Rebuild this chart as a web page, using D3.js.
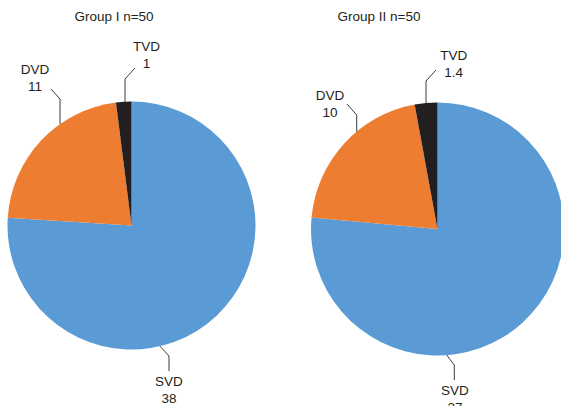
<!DOCTYPE html>
<html>
<head>
<meta charset="utf-8">
<script src="https://cdn.jsdelivr.net/npm/d3@7"></script>
<style>
  html, body { margin: 0; padding: 0; background: #fff; }
  svg { display: block; }
  text { font-family: "Liberation Sans", Arial, sans-serif; fill: #231f20; }
</style>
</head>
<body>
<svg id="chart" width="561" height="406"></svg>
<script>
// ---- data ----
const categories = ["SVD", "DVD", "TVD"];
const groupTitles = ["Group I n=50", "Group II n=50"];
const group1Values = [38, 11, 1];
const group2Values = [37, 10, 1.4];
const colors = ["#5b9bd5", "#ed7d31", "#231f20"];

// ---- layout (relative to each pie's centre) ----
const pies = [
  { values: group1Values, title: groupTitles[0], cx: 131.5, cy: 225.5, r: 124, titleX: 114, titleY: 21,
    labels: [
      { tx: 37.5, ty: 160, start: [37.5, 145.5], elbow: [37.5, 130.5], edgeX: 28.5, edgeSide: 1 },   // SVD
      { tx: -96.5, ty: -151.5, start: [-80.5, -136.5], elbow: [-71.5, -126.5], edgeX: -71.5, edgeSide: -1 }, // DVD
      { tx: 15, ty: -174.5, start: [3.5, -157.5], elbow: [-6.5, -146.5], edgeX: -6.5, edgeSide: -1 }  // TVD
    ] },
  { values: group2Values, title: groupTitles[1], cx: 437.5, cy: 229, r: 126.5, titleX: 379, titleY: 21,
    labels: [
      { tx: 17.5, ty: 166, start: [16.8, 151], elbow: [16.8, 136], edgeX: 9.2, edgeSide: 1 },
      { tx: -107.5, ty: -129, start: [-90.5, -125], elbow: [-80.8, -114], edgeX: -80.8, edgeSide: -1 },
      { tx: 16.2, ty: -169, start: [-1.5, -159], elbow: [-11.5, -148], edgeX: -11.5, edgeSide: -1 }
    ] }
];

const svg = d3.select("#chart");
const pieGen = d3.pie().sort(null).value(d => d);
const fmt = v => d3.format("~g")(v);

pies.forEach(p => {
  const g = svg.append("g").attr("transform", `translate(${p.cx},${p.cy})`);
  const arc = d3.arc().innerRadius(0).outerRadius(p.r);
  const arcs = pieGen(p.values);

  g.selectAll("path.slice")
    .data(arcs)
    .join("path")
    .attr("class", "slice")
    .attr("d", arc)
    .attr("fill", (d, i) => colors[i]);

  // leader lines
  arcs.forEach((d, i) => {
    const L = p.labels[i];
    const ey = L.edgeSide * Math.sqrt(p.r * p.r - L.edgeX * L.edgeX);
    g.append("polyline")
      .attr("points", [L.start, L.elbow, [L.edgeX, ey]].map(q => q.join(",")).join(" "))
      .attr("fill", "none")
      .attr("stroke", "#3a3a3a")
      .attr("stroke-width", 1);
    const t = g.append("text")
      .attr("text-anchor", "middle")
      .attr("font-size", "13.5px");
    t.append("tspan").attr("x", L.tx).attr("y", L.ty).text(categories[i]);
    t.append("tspan").attr("x", L.tx).attr("y", L.ty + 17).text(fmt(d.data));
  });

  svg.append("text")
    .attr("x", p.titleX)
    .attr("y", p.titleY)
    .attr("text-anchor", "middle")
    .attr("font-size", "13.5px")
    .text(p.title);
});
</script>
</body>
</html>
